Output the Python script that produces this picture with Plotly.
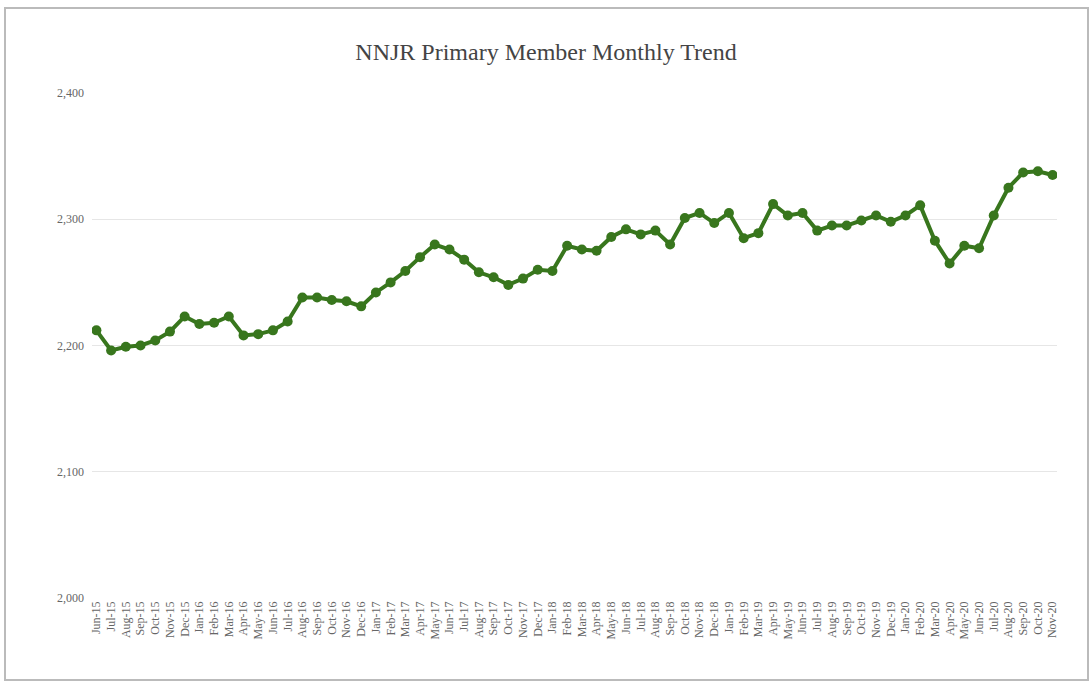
import plotly.graph_objects as go

months = [
    "Jun-15", "Jul-15", "Aug-15", "Sep-15", "Oct-15", "Nov-15", "Dec-15",
    "Jan-16", "Feb-16", "Mar-16", "Apr-16", "May-16", "Jun-16", "Jul-16", "Aug-16", "Sep-16", "Oct-16", "Nov-16", "Dec-16",
    "Jan-17", "Feb-17", "Mar-17", "Apr-17", "May-17", "Jun-17", "Jul-17", "Aug-17", "Sep-17", "Oct-17", "Nov-17", "Dec-17",
    "Jan-18", "Feb-18", "Mar-18", "Apr-18", "May-18", "Jun-18", "Jul-18", "Aug-18", "Sep-18", "Oct-18", "Nov-18", "Dec-18",
    "Jan-19", "Feb-19", "Mar-19", "Apr-19", "May-19", "Jun-19", "Jul-19", "Aug-19", "Sep-19", "Oct-19", "Nov-19", "Dec-19",
    "Jan-20", "Feb-20", "Mar-20", "Apr-20", "May-20", "Jun-20", "Jul-20", "Aug-20", "Sep-20", "Oct-20", "Nov-20",
]

members = [
    2212, 2196, 2199, 2200, 2204, 2211, 2223,
    2217, 2218, 2223, 2208, 2209, 2212, 2219, 2238, 2238, 2236, 2235, 2231,
    2242, 2250, 2259, 2270, 2280, 2276, 2268, 2258, 2254, 2248, 2253, 2260,
    2259, 2279, 2276, 2275, 2286, 2292, 2288, 2291, 2280, 2301, 2305, 2297,
    2305, 2285, 2289, 2312, 2303, 2305, 2291, 2295, 2295, 2299, 2303, 2298,
    2303, 2311, 2283, 2265, 2279, 2277, 2303, 2325, 2337, 2338, 2335,
]

y_ticks = [2000, 2100, 2200, 2300, 2400]
y_tick_labels = ["2,000", "2,100", "2,200", "2,300", "2,400"]

fig = go.Figure()
fig.add_trace(go.Scatter(
    x=months, y=members, mode="lines+markers",
    line=dict(color="#38761d", width=4),
    marker=dict(color="#38761d", size=10),
    showlegend=False,
))

serif = "Liberation Serif, Times New Roman, serif"

fig.update_layout(
    width=1092, height=683,
    margin=dict(l=92, r=35, t=93, b=85),
    paper_bgcolor="white", plot_bgcolor="white",
    title=dict(text="NNJR Primary Member Monthly Trend", x=0.5, xanchor="center",
               y=1 - 52 / 683, yanchor="middle",
               font=dict(family=serif, size=24, color="#444444")),
    xaxis=dict(type="category", tickangle=-90, showgrid=False, zeroline=False,
               showline=False, ticks="", tickfont=dict(family=serif, size=12, color="#666666"),
               range=[-0.3, len(months) - 0.7]),
    yaxis=dict(range=[2000, 2400], tickvals=y_ticks, ticktext=y_tick_labels,
               showgrid=True, gridcolor="#e6e6e6", gridwidth=1, zeroline=False,
               showline=False, ticks="", ticklabelstandoff=7,
               tickfont=dict(family=serif, size=12, color="#666666")),
    shapes=[dict(type="rect", xref="paper", yref="paper",
                 x0=(5 - 92) / 965, x1=(1088 - 92) / 965,
                 y0=(598 - 680) / 505, y1=(598 - 8) / 505,
                 line=dict(color="#bbbbbb", width=2), fillcolor="rgba(0,0,0,0)")],
)

fig.write_html("out.html", config={"displayModeBar": False},
               post_script="document.body.style.margin='0';")
